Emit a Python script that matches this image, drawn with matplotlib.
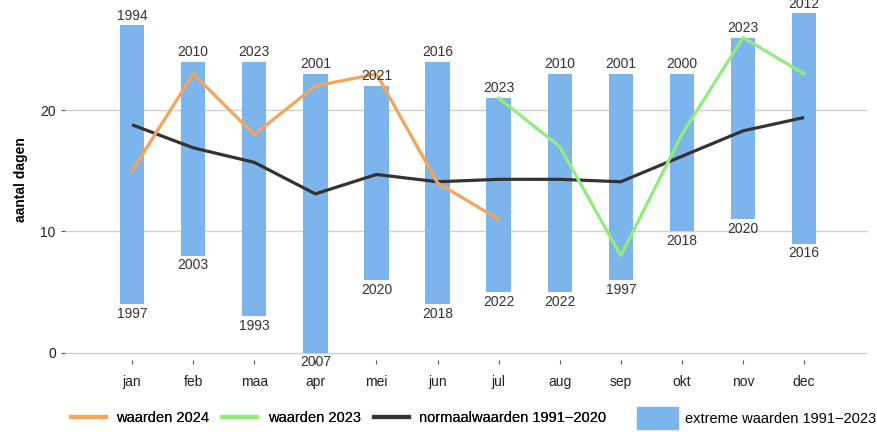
import matplotlib
matplotlib.use("Agg")
import matplotlib.pyplot as plt
from matplotlib.lines import Line2D
from matplotlib.patches import Patch

plt.rcParams["font.family"] = ["Liberation Sans", "DejaVu Sans"]

months = ["jan", "feb", "maa", "apr", "mei", "jun", "jul", "aug", "sep", "okt", "nov", "dec"]

# extreme waarden 1991-2023
ext_max = [27, 24, 24, 23, 22, 24, 21, 23, 23, 23, 26, 28]
ext_max_year = ["1994", "2010", "2023", "2001", "2021", "2016", "2023", "2010", "2001", "2000", "2023", "2012"]
ext_min = [4, 8, 3, 0, 6, 4, 5, 5, 6, 10, 11, 9]
ext_min_year = ["1997", "2003", "1993", "2007", "2020", "2018", "2022", "2022", "1997", "2018", "2020", "2016"]

# normaalwaarden 1991-2020
normal = [18.8, 16.9, 15.7, 13.1, 14.7, 14.1, 14.3, 14.3, 14.1, 16.2, 18.3, 19.4]

# waarden 2024 (jan-jul) en 2023 (jul-dec)
vals_2024 = [15, 23, 18, 22, 23, 14, 11]
vals_2023 = [21, 17, 8, 18, 26, 23]

C_BAR = "#7cb5ec"
C_2024 = "#f7a35c"
C_2023 = "#90ed7d"
C_NORM = "#333333"

x = list(range(1, 13))
x_2024 = x[:len(vals_2024)]
x_2023 = x[12 - len(vals_2023):]

fig = plt.figure(figsize=(8.77, 4.32), dpi=100)
ax = fig.add_axes([0.074, 0.167, 0.916, 0.833])

heights = [hi - lo for hi, lo in zip(ext_max, ext_min)]
ax.bar(x, heights, bottom=ext_min, width=0.4, color=C_BAR, zorder=2)

for xi, hi, lo, yh, yl in zip(x, ext_max, ext_min, ext_max_year, ext_min_year):
    ax.annotate(yh, (xi, hi), xytext=(0, 2), textcoords="offset points",
                ha="center", va="bottom", fontsize=10, color="#333333", zorder=5)
    ax.annotate(yl, (xi, lo), xytext=(0, -2), textcoords="offset points",
                ha="center", va="top", fontsize=10, color="#333333", zorder=5)

ax.plot(x, normal, color=C_NORM, lw=2.3, zorder=3, solid_capstyle="butt")
ax.plot(x_2024, vals_2024, color=C_2024, lw=2.3, zorder=4)
ax.plot(x_2023, vals_2023, color=C_2023, lw=2.3, zorder=4)

ax.set_xlim(-0.1, 13.05)
ax.set_ylim(-0.6, 29.1)
ax.set_xticks(x)
ax.set_xticklabels(months)
ax.set_yticks([0, 10, 20])
ax.tick_params(axis="both", colors="#555555", labelcolor="#222222", labelsize=10,
               length=3, width=0.8)
ax.tick_params(axis="x", pad=8)
ax.grid(axis="y", color="#d0d0d0", lw=1, zorder=0)
ax.set_axisbelow(True)
for s in ax.spines.values():
    s.set_visible(False)
ax.set_ylabel("aantal dagen", fontsize=10, fontweight="bold", labelpad=9)

line_handles = [
    Line2D([], [], color=C_2024, lw=3),
    Line2D([], [], color=C_2023, lw=3),
    Line2D([], [], color=C_NORM, lw=3),
]
line_labels = ["waarden 2024", "waarden 2023", "normaalwaarden 1991\u22122020"]
leg1 = fig.legend(line_handles, line_labels, loc="center left", bbox_to_anchor=(0.081, 0.032),
                  ncol=3, frameon=False, fontsize=10.5, handlelength=2.4,
                  columnspacing=0.9, handletextpad=0.7, borderpad=0, borderaxespad=0)
fig.add_artist(leg1)
fig.legend([Patch(color=C_BAR)], ["extreme waarden 1991\u22122023"], loc="center left",
           bbox_to_anchor=(0.726, 0.032), frameon=False, fontsize=10.5, handlelength=2.8,
           handleheight=2.0, handletextpad=0.5, borderpad=0, borderaxespad=0)

fig.savefig("out.png", dpi=100)
